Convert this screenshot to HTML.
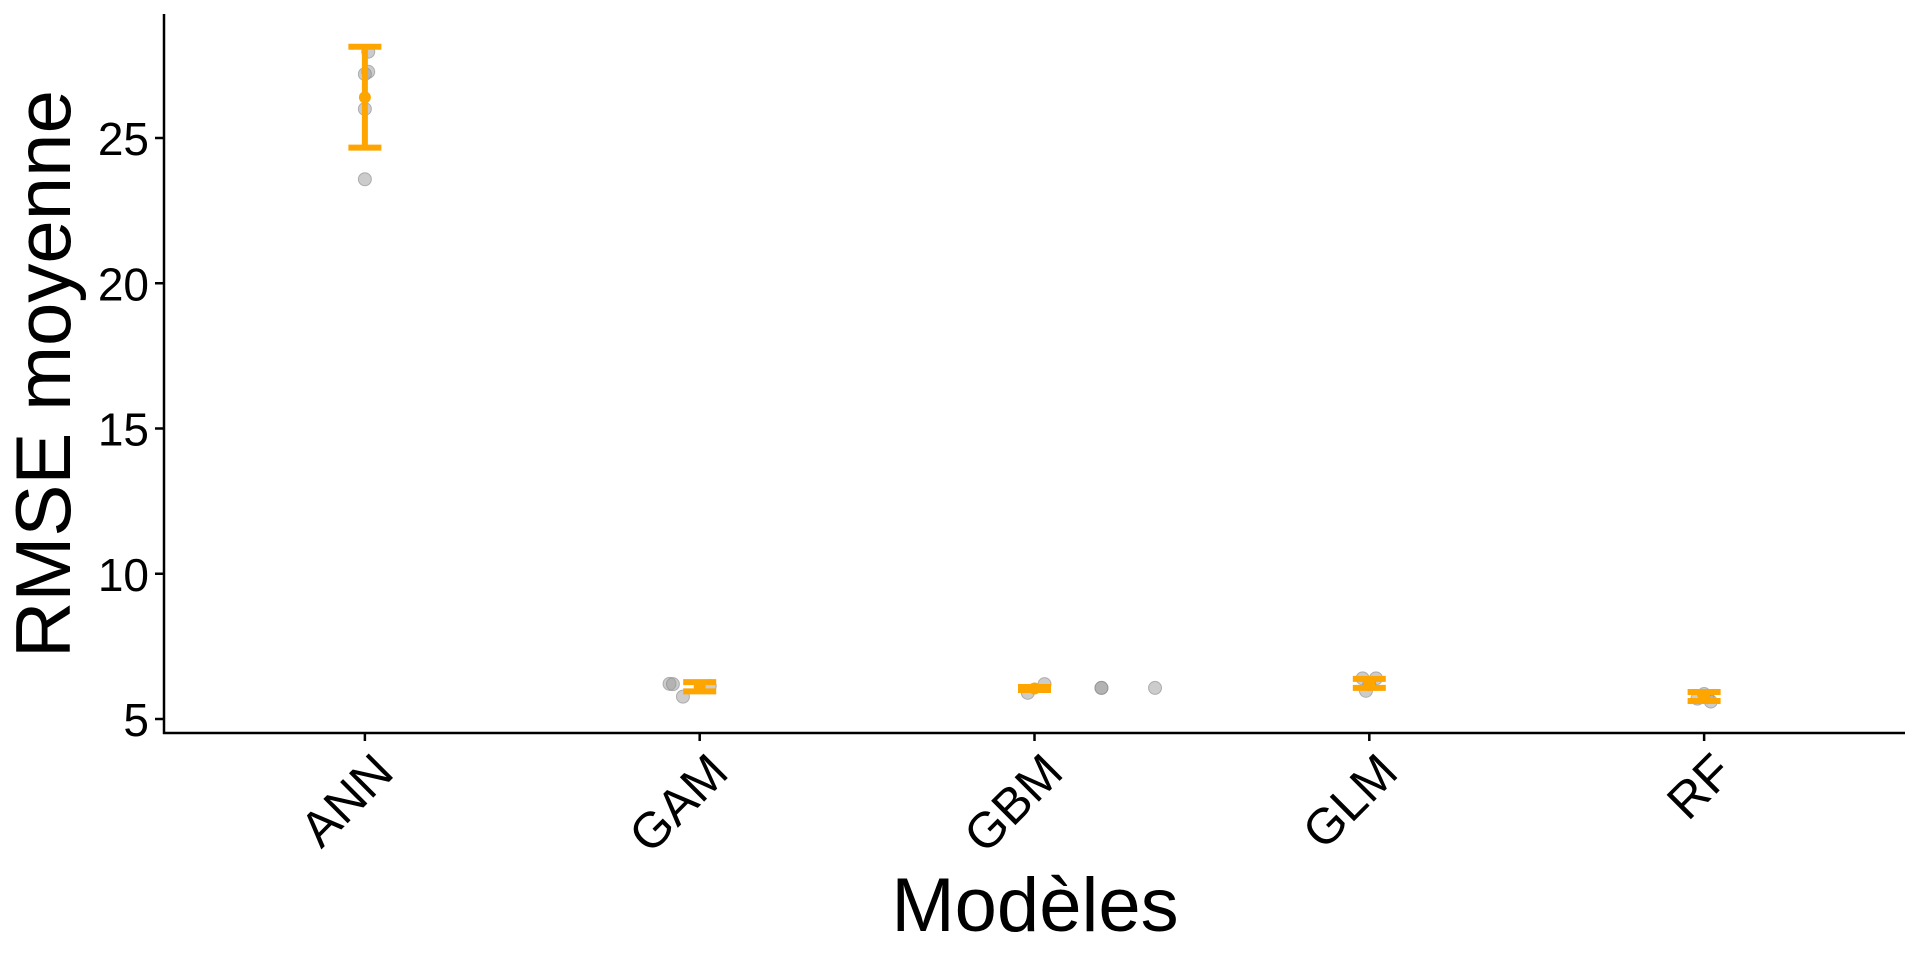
<!DOCTYPE html>
<html><head><meta charset="utf-8"><style>
body{margin:0;background:#fff;}
svg{display:block;font-family:"Liberation Sans",Arial,sans-serif;}
</style></head><body>
<svg id="chart" width="1920" height="960">
<rect width="1920" height="960" fill="#fff"/>
<g id="points"></g>
<g id="bars"></g>
<g id="axes"></g>
<text x="70" y="374" font-size="78" text-anchor="middle" transform="rotate(-90 70 374)">RMSE moyenne</text>
<text x="1035" y="931" font-size="76" text-anchor="middle">Modèles</text>
</svg>
<script>
const categories = ["ANN","GAM","GBM","GLM","RF"];
const means = [26.4, 6.1, 6.05, 6.22, 5.78];
const upper = [28.14, 6.27, 6.1, 6.38, 5.93];
const lower = [24.67, 5.95, 6.0, 6.07, 5.62];
const pointCat = [0,0,0,0,0, 1,1,1,1, 2,2,2,2,2, 3,3,3,3, 4,4,4,4];
const pointVal = [27.97,27.28,27.2,26.0,23.58, 6.21,6.2,5.77,6.13, 5.9,6.2,6.07,6.07,6.07, 6.4,6.4,5.97,6.2, 5.86,5.7,5.6,5.75];
const pointJit = [0.01,0.01,0,0,0, -0.09,-0.08,-0.05,0.03, -0.02,0.03,0.2,0.2,0.36, -0.02,0.02,-0.01,0, 0,-0.02,0.02,0.01];
const yTicks = [5,10,15,20,25];

const NS="http://www.w3.org/2000/svg";
const x0=164, x1=1905, yTop=14, yBot=733;
const band=(x1-x0)/(categories.length-1+1.2);
const xs=i=>x0+(i+0.6)*band;
const ys=v=>719-(v-5)*29.05;
function mk(tag,attrs,parent){const e=document.createElementNS(NS,tag);for(const k in attrs)e.setAttribute(k,attrs[k]);parent.appendChild(e);return e;}
const P=document.getElementById('points'),B=document.getElementById('bars'),A=document.getElementById('axes');
pointVal.forEach((v,i)=>{
  const c=mk('circle',{cx:xs(pointCat[i]+pointJit[i]),cy:ys(v),r:6.5,fill:'#999',"fill-opacity":0.5,stroke:'#888',"stroke-opacity":0.6},P);
  
  
});
categories.forEach((c,i)=>{
  const x=xs(i);
  const g=mk('g',{stroke:'#FFA500',"stroke-width":6},B);
  
  
  mk('line',{x1:x,x2:x,y1:ys(upper[i]),y2:ys(lower[i])},g);
  mk('line',{x1:x-16.5,x2:x+16.5,y1:ys(upper[i]),y2:ys(upper[i])},g);
  mk('line',{x1:x-16.5,x2:x+16.5,y1:ys(lower[i]),y2:ys(lower[i])},g);
  const m=mk('circle',{cx:x,cy:ys(means[i]),r:6,fill:'#FFA500'},B);
  
  
  const t=mk('line',{x1:x,x2:x,y1:yBot,y2:yBot+8,stroke:'#000',"stroke-width":2.5},A);
  
  
  const l=mk('text',{x:x+31,y:775,"font-size":50,"text-anchor":"end",transform:`rotate(-45 ${x+31} 775)`},A);
  l.textContent=c;
  
  
});
yTicks.forEach(v=>{
  const y=ys(v);
  const t=mk('line',{x1:155,x2:x0,y1:y,y2:y,stroke:'#000',"stroke-width":2.5},A);
  
  
  const l=mk('text',{x:149,y:y+17,"font-size":46,"text-anchor":"end"},A);
  l.textContent=v;
  
  
});
const ya=mk('line',{x1:x0,x2:x0,y1:yTop,y2:yBot+1,stroke:'#000',"stroke-width":2.5},A);


const xa=mk('line',{x1:x0-1,x2:x1,y1:yBot,y2:yBot,stroke:'#000',"stroke-width":2.5},A);


</script>
</body></html>
